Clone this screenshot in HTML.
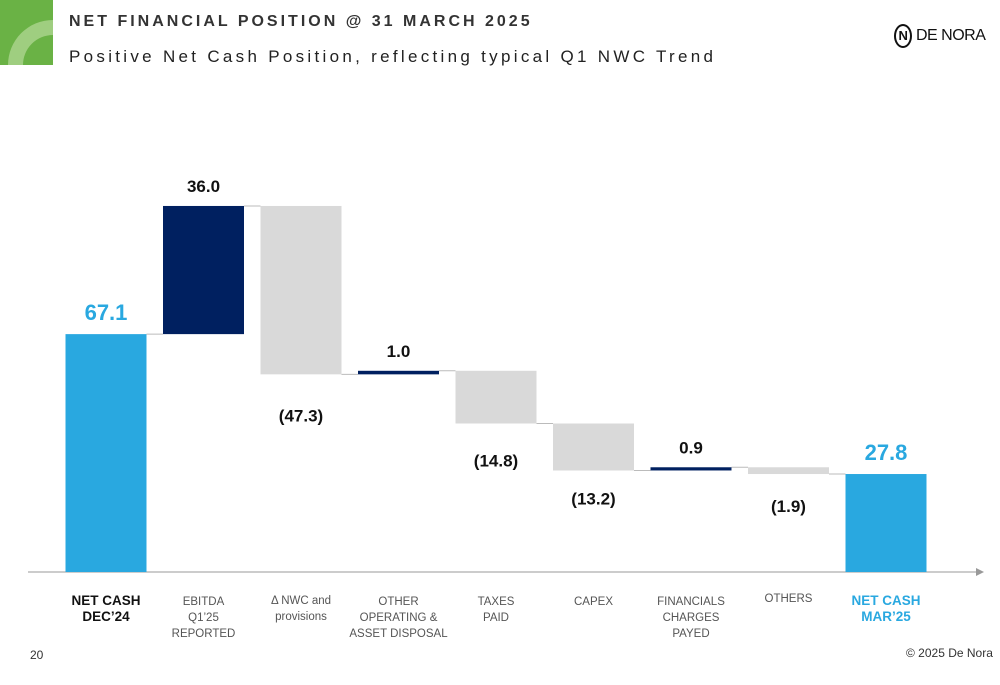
<!DOCTYPE html>
<html><head><meta charset="utf-8"><style>
body{margin:0;width:1000px;height:685px;background:#fff;font-family:"Liberation Sans",sans-serif;position:relative;overflow:hidden}
.t1{position:absolute;left:69px;top:13px;font-size:16px;font-weight:bold;letter-spacing:3px;color:#333}
.t2{position:absolute;left:69px;top:47px;font-size:17px;letter-spacing:3.3px;color:#222}
</style></head><body>
<svg style="position:absolute;left:0;top:0" width="53" height="65"><rect width="53" height="65" fill="#6ab245"/><path d="M8 65 A45 45 0 0 1 53 20 V35 A30 30 0 0 0 23 65Z" fill="#9fce80"/></svg>
<div class="t1">NET FINANCIAL POSITION @ 31 MARCH 2025</div>
<div class="t2">Positive Net Cash Position, reflecting typical Q1 NWC Trend</div>
<div style="position:absolute;left:894px;top:24px;font-size:16px;color:#111;display:flex;align-items:center;letter-spacing:-0.5px"><span style="display:inline-block;width:14px;height:20px;border:2.5px solid #111;border-radius:50%;margin-right:4px;text-align:center;font-size:13px;font-weight:bold;line-height:20px">N</span>DE NORA</div>
<svg id="c" width="1000" height="685" style="position:absolute;left:0;top:0" font-family="Liberation Sans, sans-serif"></svg>
<div style="position:absolute;left:30px;top:648px;font-size:12px;color:#333">20</div>
<div style="position:absolute;left:906px;top:646px;font-size:12px;color:#333">© 2025 De Nora</div>
<script>
const categories=[["NET CASH","DEC’24"],["EBITDA","Q1’25","REPORTED"],["Δ NWC and","provisions"],["OTHER","OPERATING &","ASSET DISPOSAL"],["TAXES","PAID"],["CAPEX"],["FINANCIALS","CHARGES","PAYED"],["OTHERS"],["NET CASH","MAR’25"]];
const values=[67.1,36.0,-47.3,1.0,-14.8,-13.2,0.9,-1.9,27.8];
const labels=["67.1","36.0","(47.3)","1.0","(14.8)","(13.2)","0.9","(1.9)","27.8"];
const kinds=["total","up","down","up","down","down","up","down","total"];
const svg=document.getElementById('c');const NS='http://www.w3.org/2000/svg';
const y=v=>573-3.56*v, x=i=>106+i*97.5, W=81;
function mk(t,a){const e=document.createElementNS(NS,t);for(const k in a)e.setAttribute(k,a[k]);svg.appendChild(e);return e;}
const ax=mk('line',{x1:28,y1:572,x2:976,y2:572,stroke:'#999','stroke-width':1});

const ar=mk('path',{d:'M976 568 L984 572 L976 576Z',fill:'#999'});

let run=0;
values.forEach((v,i)=>{
 let top,bot,col;
 if(kinds[i]=='total'){top=y(v);bot=572;col='#29a8e0';run=v;}
 else{const s=run,e=run+v;top=y(Math.max(s,e));bot=y(Math.min(s,e));col=kinds[i]=='up'?'#002060':'#d9d9d9';run=e;}
 const h=Math.max(bot-top,2.5);
 const r=mk('rect',{x:x(i)-W/2,y:top,width:W,height:h,fill:col});
 
 if(i<values.length-1){const c=mk('line',{x1:x(i)+W/2,x2:x(i+1)-W/2,y1:y(run),y2:y(run),stroke:'#bbb','stroke-width':1});
 }
 let ly,fs=17,fc='#111';
 if(kinds[i]=='total'){ly=top-14;fs=22;fc='#29a8e0';}
 else if(kinds[i]=='up')ly=top-14;
 else ly=bot+(i==7?38:i==5?34:i==4?43:47);
 const t=mk('text',{x:x(i),y:ly,'text-anchor':'middle','font-size':fs,'font-weight':'bold',fill:fc});t.textContent=labels[i];
 
 const tot=kinds[i]=='total';
 const ty=(i==7)?602:(i==2?604:605);
 categories[i].forEach((s,j)=>{const tt=mk('text',{x:x(i),y:ty+j*16,'text-anchor':'middle','font-size':tot?13.5:11.5,'font-weight':tot?'bold':'normal',fill:i==8?'#29a8e0':(tot?'#111':'#555')});tt.textContent=s;
 });
});
</script>
</body></html>
